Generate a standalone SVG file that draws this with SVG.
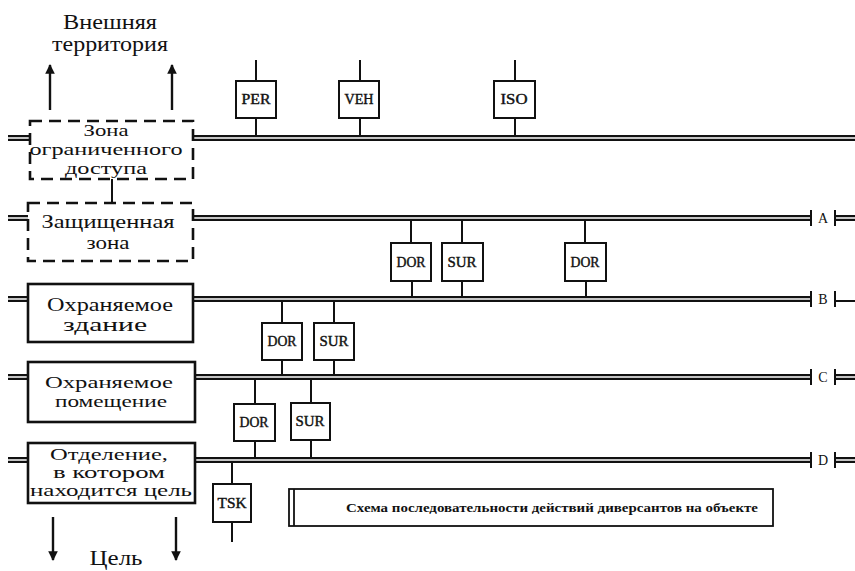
<svg xmlns="http://www.w3.org/2000/svg" width="855" height="571" viewBox="0 0 855 571">
<defs>
<style>
.big{font-family:"Liberation Serif","DejaVu Serif",serif;font-size:21px;fill:#111;text-anchor:middle}
.b2{font-size:19px}
.b3{font-size:17px}
.lbl{font-family:"Liberation Serif","DejaVu Serif",serif;font-size:14px;fill:#111;stroke:#111;stroke-width:0.4;text-anchor:middle}
.let{font-family:"Liberation Serif","DejaVu Serif",serif;font-size:14px;fill:#111;text-anchor:middle}
.cap{font-family:"Liberation Serif","DejaVu Serif",serif;font-size:13px;font-weight:bold;fill:#111;text-anchor:middle}
.zone{fill:#fff;stroke:#111;stroke-width:2.6}
.dash{stroke-dasharray:12 7}
.sbox{fill:#fff;stroke:#111;stroke-width:2}
.railo{stroke:#111;stroke-width:6;fill:none}
.raili{stroke:#fff;stroke-width:1.4;fill:none}
.stem{stroke:#111;stroke-width:2;fill:none}
.tick{stroke:#111;stroke-width:2;fill:none}
.arr{stroke:#111;stroke-width:2.4;fill:none}
</style>
<marker id="ah" viewBox="0 0 10 10" refX="9" refY="5" markerWidth="4" markerHeight="4" orient="auto">
<path d="M0,0 L10,5 L0,10 Z" fill="#111"/>
</marker>
</defs>
<g id="connectors">
<path class="railo" d="M8,138 H30 M192,138 H855 M8,218 H28 M192,218 H811 M835,218 H855 M8,299 H28 M192,299 H811 M8,377 H28 M194,377 H811 M835,377 H855 M8,460 H28 M194,460 H811 M835,460 H855"/>
<path class="raili" d="M8,138 H30 M192,138 H855 M8,218 H28 M192,218 H811 M835,218 H855 M8,299 H28 M192,299 H811 M8,377 H28 M194,377 H811 M835,377 H855 M8,460 H28 M194,460 H811 M835,460 H855"/>
<path class="stem" d="M835,301 H855"/>
<path class="tick" d="M811,210 V226 M835,210 V226 M811,291 V307 M835,291 V307 M811,369 V385 M835,369 V385 M811,452 V468 M835,452 V468"/>
<path class="stem" d="M256,60 V81 M256,118 V135 M360,60 V81 M360,118 V135 M515,60 V81 M515,118 V135"/>
<path class="stem" d="M411,221 V243 M412,281 V296 M462,221 V243 M462,281 V296 M585,221 V243 M586,281 V296"/>
<path class="stem" d="M282,302 V323 M282,360 V374 M334,302 V323 M334,360 V374"/>
<path class="stem" d="M255,380 V404 M255,441 V457 M311,380 V403 M311,440 V457"/>
<path class="stem" d="M232,463 V484 M232,522 V542"/>
<path class="stem" d="M112,179 V203"/>
<path class="arr" d="M50,110 V65" marker-end="url(#ah)"/>
<path class="arr" d="M172,110 V65" marker-end="url(#ah)"/>
<path class="arr" d="M53,517 V560" marker-end="url(#ah)"/>
<path class="arr" d="M176,517 V560" marker-end="url(#ah)"/>
</g>
<g id="labels-right">
<text class="let" x="823" y="223">A</text>
<text class="let" x="823" y="304">B</text>
<text class="let" x="823" y="382">C</text>
<text class="let" x="823" y="465">D</text>
</g>
<g id="outside">
<text class="big" x="110" y="29" textLength="94" lengthAdjust="spacingAndGlyphs">Внешняя</text>
<text class="big" x="110" y="51" textLength="116" lengthAdjust="spacingAndGlyphs">территория</text>
</g>
<g id="target">
<text class="big" x="116" y="565" textLength="53" lengthAdjust="spacingAndGlyphs">Цель</text>
</g>
<g id="zone1">
<rect class="zone dash" x="30" y="121" width="163" height="58"/>
<text class="big b3" x="106" y="136" textLength="45" lengthAdjust="spacingAndGlyphs">Зона</text>
<text class="big b3" x="106" y="155" textLength="153" lengthAdjust="spacingAndGlyphs">ограниченного</text>
<text class="big b3" x="106" y="174" textLength="82" lengthAdjust="spacingAndGlyphs">доступа</text>
</g>
<g id="zone2">
<rect class="zone dash" x="28" y="203" width="165" height="58"/>
<text class="big b2" x="108" y="228" textLength="133" lengthAdjust="spacingAndGlyphs">Защищенная</text>
<text class="big b2" x="108" y="249" textLength="43" lengthAdjust="spacingAndGlyphs">зона</text>
</g>
<g id="zone3">
<rect class="zone" x="28" y="284" width="165" height="58"/>
<text class="big b2" x="110" y="311" textLength="126" lengthAdjust="spacingAndGlyphs">Охраняемое</text>
<text class="big b2" x="105" y="331" textLength="84" lengthAdjust="spacingAndGlyphs">здание</text>
</g>
<g id="zone4">
<rect class="zone" x="28" y="362" width="167" height="60"/>
<text class="big b3" x="109" y="388" textLength="128" lengthAdjust="spacingAndGlyphs">Охраняемое</text>
<text class="big b3" x="111" y="407" textLength="112" lengthAdjust="spacingAndGlyphs">помещение</text>
</g>
<g id="zone5">
<rect class="zone" x="28" y="443" width="167" height="60"/>
<text class="big b3" x="109" y="460" textLength="118" lengthAdjust="spacingAndGlyphs">Отделение,</text>
<text class="big b3" x="109" y="478" textLength="112" lengthAdjust="spacingAndGlyphs">в котором</text>
<text class="big b3" x="111" y="496" textLength="162" lengthAdjust="spacingAndGlyphs">находится цель</text>
</g>
<g id="per"><rect class="sbox" x="236" y="81" width="40" height="37"/><text class="lbl" x="256" y="104" textLength="29" lengthAdjust="spacingAndGlyphs">PER</text></g>
<g id="veh"><rect class="sbox" x="339" y="81" width="40" height="37"/><text class="lbl" x="359" y="104" textLength="29" lengthAdjust="spacingAndGlyphs">VEH</text></g>
<g id="iso"><rect class="sbox" x="494" y="81" width="41" height="37"/><text class="lbl" x="514" y="104" textLength="27" lengthAdjust="spacingAndGlyphs">ISO</text></g>
<g id="dor-a1"><rect class="sbox" x="391" y="243" width="40" height="38"/><text class="lbl" x="411" y="267" textLength="29" lengthAdjust="spacingAndGlyphs">DOR</text></g>
<g id="sur-a"><rect class="sbox" x="442" y="243" width="41" height="38"/><text class="lbl" x="462" y="267" textLength="29" lengthAdjust="spacingAndGlyphs">SUR</text></g>
<g id="dor-a2"><rect class="sbox" x="565" y="243" width="41" height="38"/><text class="lbl" x="585" y="267" textLength="29" lengthAdjust="spacingAndGlyphs">DOR</text></g>
<g id="dor-b"><rect class="sbox" x="262" y="323" width="40" height="37"/><text class="lbl" x="282" y="346" textLength="29" lengthAdjust="spacingAndGlyphs">DOR</text></g>
<g id="sur-b"><rect class="sbox" x="314" y="323" width="40" height="37"/><text class="lbl" x="334" y="346" textLength="29" lengthAdjust="spacingAndGlyphs">SUR</text></g>
<g id="dor-c"><rect class="sbox" x="234" y="404" width="41" height="37"/><text class="lbl" x="254" y="427" textLength="29" lengthAdjust="spacingAndGlyphs">DOR</text></g>
<g id="sur-c"><rect class="sbox" x="291" y="403" width="39" height="37"/><text class="lbl" x="310" y="426" textLength="29" lengthAdjust="spacingAndGlyphs">SUR</text></g>
<g id="tsk"><rect class="sbox" x="213" y="484" width="38" height="38"/><text class="lbl" x="232" y="508" textLength="29" lengthAdjust="spacingAndGlyphs">TSK</text></g>
<g id="caption">
<rect x="289" y="489" width="484" height="37" fill="#fff" stroke="#111" stroke-width="1.8"/>
<path d="M294,489 V526" stroke="#111" stroke-width="1.8"/>
<text class="cap" x="552" y="512" textLength="412" lengthAdjust="spacingAndGlyphs">Схема последовательности действий диверсантов на объекте</text>
</g>
</svg>
